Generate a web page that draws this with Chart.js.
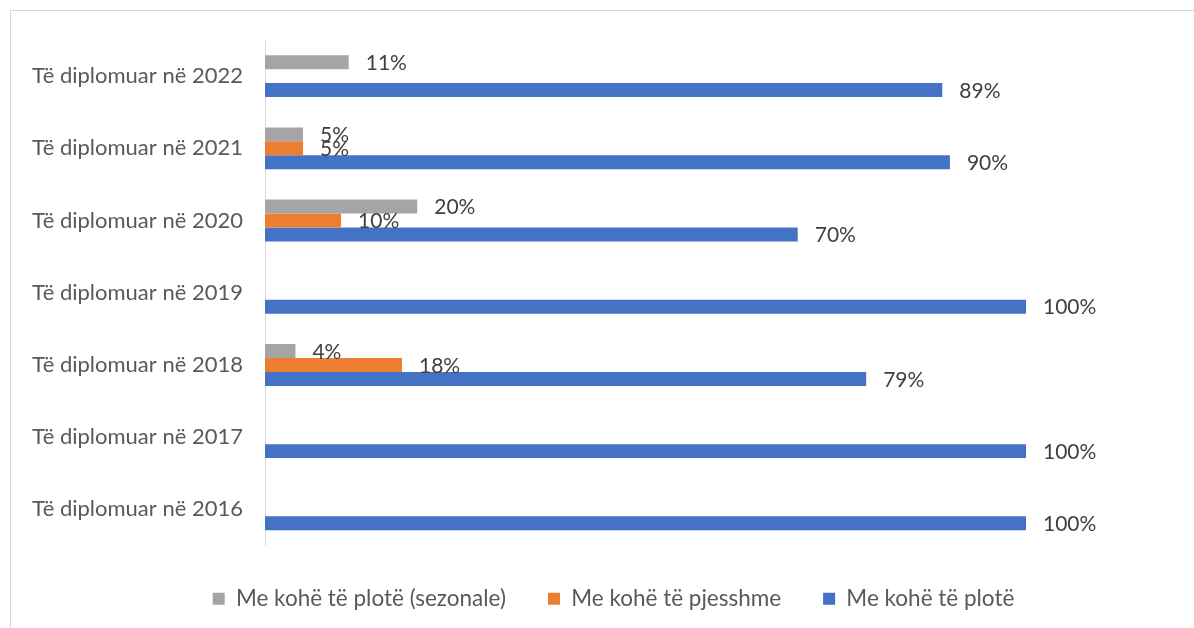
<!DOCTYPE html>
<html lang="sq">
<head>
  <meta charset="UTF-8">
  <title>Të diplomuar sipas llojit të punësimit</title>
  <script src="https://cdn.jsdelivr.net/npm/chart.js"></script>
  <style>
    body {
      margin: 0;
      background: #ffffff;
      width: 1194px;
      height: 628px;
      overflow: hidden;
    }

    .frame {
      position: absolute;
      left: 10px;
      top: 10px;
      width: 1184px;
      height: 618px;
      border: 1px solid #d9d9d9;
      border-right: none;
      border-bottom: none;
      box-sizing: border-box;
    }

    .frame canvas {
      display: block;
    }
  </style>
</head>
<body>
  <div class="frame">
    <canvas id="chart" width="1183" height="617"></canvas>
  </div>

  <script>
    const categories = [
      'Të diplomuar në 2022',
      'Të diplomuar në 2021',
      'Të diplomuar në 2020',
      'Të diplomuar në 2019',
      'Të diplomuar në 2018',
      'Të diplomuar në 2017',
      'Të diplomuar në 2016'
    ];
    const seriesNames = ['Me kohë të plotë (sezonale)', 'Me kohë të pjesshme', 'Me kohë të plotë'];
    const sezonale = [11, 5, 20, null, 4, null, null];
    const pjesshme = [null, 5, 10, null, 18, null, null];
    const plote = [89, 90, 70, 100, 79, 100, 100];
    const seriesColors = ['#a5a5a5', '#ed7d31', '#4472c4'];

    const fontFamily = "Lato, 'Open Sans', sans-serif";

    // labels at the end of each bar, like the Excel data labels
    const barLabels = {
      id: 'barLabels',
      afterDatasetsDraw(chart) {
        const ctx = chart.ctx;
        ctx.save();
        ctx.font = '21px ' + fontFamily;
        ctx.fillStyle = '#404040';
        ctx.textAlign = 'left';
        ctx.textBaseline = 'middle';
        chart.data.datasets.forEach((ds, i) => {
          const meta = chart.getDatasetMeta(i);
          meta.data.forEach((bar, j) => {
            const v = ds.data[j];
            if (v === null || v === undefined) return;
            ctx.fillText(v + '%', bar.x + 17, bar.y + 1);
          });
        });
        ctx.restore();
      }
    };

    // the legend in the reference sits centred on the whole frame, not on the padded box
    const legendShift = {
      id: 'legendShift',
      afterLayout(chart) {
        chart.legend.left += 95;
        chart.legend.right += 95;
      }
    };

    new Chart(document.getElementById('chart'), {
      type: 'bar',
      data: {
        labels: categories,
        datasets: [
          { label: seriesNames[0], data: sezonale, backgroundColor: seriesColors[0] },
          { label: seriesNames[1], data: pjesshme, backgroundColor: seriesColors[1] },
          { label: seriesNames[2], data: plote, backgroundColor: seriesColors[2] }
        ]
      },
      options: {
        indexAxis: 'y',
        responsive: false,
        animation: false,
        categoryPercentage: 0.58,
        barPercentage: 1,
        layout: {
          padding: { left: 0, right: 168, top: 29, bottom: 8 }
        },
        scales: {
          x: {
            display: false,
            min: 0,
            max: 100
          },
          y: {
            grid: { display: false, drawTicks: false },
            border: { display: true, color: '#d9d9d9', width: 1 },
            ticks: {
              color: '#595959',
              padding: 22,
              font: { family: fontFamily, size: 22 }
            },
            afterFit(scale) {
              scale.width = 254;
              scale.paddingTop = 0;
              scale.paddingBottom = 0;
            }
          }
        },
        plugins: {
          legend: {
            position: 'bottom',
            labels: {
              color: '#595959',
              boxWidth: 12,
              boxHeight: 12,
              padding: 42,
              font: { family: fontFamily, size: 22.5 }
            }
          },
          tooltip: { enabled: false }
        }
      },
      plugins: [barLabels, legendShift]
    });
  </script>
</body>
</html>
